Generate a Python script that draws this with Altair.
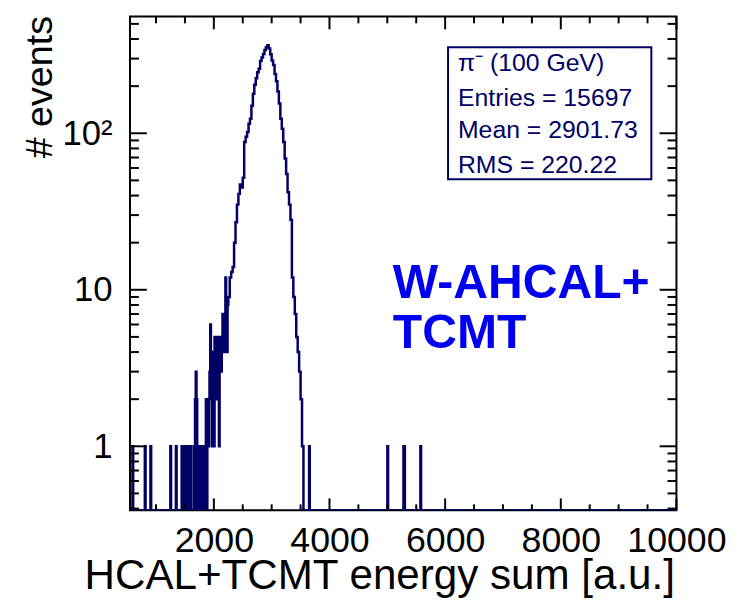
import altair as alt
import pandas as pd

# ---------------- data ----------------
x_min, x_max = 550, 10000
y_min, y_max = 0.39, 558

# low tail: fine bins of 12.5 starting at 1650
tail_lo = 1650
tail_width = 12.5
tail_counts = [
    1, 0, 2, 3, 2, 0, 1, 0, 1, 1, 0, 1, 0, 1, 0, 1,   # 1650-1837.5
    1, 2, 0, 2, 1, 2, 3, 6, 2, 1, 2, 4, 1, 5, 2, 5,   # 1850-2037.5
    3, 2, 5, 1, 4, 5, 3, 4, 7, 5, 4, 6, 12, 6, 4, 8,  # 2050-2237.5
]
# main peak: bins of 25 starting at 2250
peak_lo = 2250
peak_width = 25
peak_counts = [
    9, 12, 13, 14, 20, 27,                          # 2250-2375
    35, 41, 47, 45, 52, 88, 95, 102, 115, 124,      # 2400-2625
    150, 179, 204, 225, 245, 258, 290, 305, 321, 340,  # 2650-2875
    355, 365, 348, 320, 292, 273, 239, 215, 185, 155,  # 2900-3125
    124, 107, 88, 69, 55, 42, 35, 28, 12, 9,        # 3150-3375
    7, 5, 4, 3, 2, 1,                               # 3400-3525
]
# isolated single-entry spikes (bin centres)
spike_pos = [599, 813, 910, 1254, 1350, 1450, 1480, 1525, 1560, 1596,
             3653, 5007, 5285, 5297.5, 5578]
spike_counts = [1] * len(spike_pos)
spike_width = 12.5

x_major = [2000, 4000, 6000, 8000, 10000]
x_minor = [1000, 1500, 2500, 3000, 3500, 4500, 5000, 5500, 6500, 7000,
           7500, 8500, 9000, 9500]
y_major = [1, 10, 100]
y_minor = [0.4, 0.5, 0.6, 0.7, 0.8, 0.9, 2, 3, 4, 5, 6, 7, 8, 9,
           20, 30, 40, 50, 60, 70, 80, 90, 200, 300, 400, 500]

stats_lines = ["π⁻ (100 GeV)", "Entries = 15697", "Mean = 2901.73", "RMS = 220.22"]
label_lines = ["W-AHCAL+", "TCMT"]

# ---------------- build step outline table ----------------
bins = []
for i, c in enumerate(tail_counts):
    lo = tail_lo + i * tail_width
    bins.append((lo, lo + tail_width, c))
for i, c in enumerate(peak_counts):
    lo = peak_lo + i * peak_width
    bins.append((lo, lo + peak_width, c))
for p, c in zip(spike_pos, spike_counts):
    bins.append((p - spike_width / 2, p + spike_width / 2, c))
bins.sort()
pts = [(x_min, 0)]
prev_hi = x_min
for lo, hi, c in bins:
    if lo > prev_hi:
        pts.append((prev_hi, 0))
    pts.append((lo, c))
    prev_hi = hi
pts.append((prev_hi, 0))
pts.append((x_max, 0))
hist = pd.DataFrame(pts, columns=["x", "count"])
hist["y"] = hist["count"].clip(lower=0.01)

W, H = 551, 498
NAVY = "#000066"
FONT = "Liberation Sans"

xscale = alt.Scale(domain=[x_min, x_max], nice=False, zero=False)
yscale = alt.Scale(type="log", domain=[y_min, y_max], nice=False, clamp=True)

main = alt.Chart(hist).mark_line(
    interpolate="step-after", color=NAVY, strokeWidth=2.5, clip=True
).encode(
    x=alt.X("x:Q", scale=xscale, axis=alt.Axis(
        values=x_major, format="d", labelFont=FONT, labelFontSize=36,
        labelColor="black", labelPadding=42, labelBaseline="alphabetic",
        labelFlush=False, labelOverlap=False, ticks=False, tickSize=0,
        domain=False, grid=False,
        title="HCAL+TCMT energy sum [a.u.]", titleFont=FONT,
        titleFontSize=42.5, titleFontWeight="normal", titleColor="black",
        titleX=549, titleY=79, titleAlign="right", titleBaseline="alphabetic")),
    y=alt.Y("y:Q", scale=yscale, axis=alt.Axis(
        values=y_major,
        labelExpr="datum.value == 100 ? '10²' : datum.value == 10 ? '10' : '1'",
        labelFont=FONT, labelFontSize=35, labelColor="black",
        labelPadding=18, labelBaseline="middle", labelAlign="right",
        labelFlush=False, labelOverlap=False, ticks=False, tickSize=0,
        domain=False, grid=False,
        title="# events", titleFont=FONT,
        titleFontSize=38, titleFontWeight="normal", titleColor="black",
        titleAngle=270, titleX=-79, titleY=-1, titleAlign="right",
        titleBaseline="alphabetic")),
)

def xticks(vals, y0, y1):
    return alt.Chart(pd.DataFrame({"v": vals})).mark_rule(
        color="black", strokeWidth=2).encode(
        x=alt.X("v:Q", scale=xscale), y=alt.value(y0), y2=alt.value(y1))

def yticks(vals, x0, x1):
    return alt.Chart(pd.DataFrame({"v": vals})).mark_rule(
        color="black", strokeWidth=2).encode(
        y=alt.Y("v:Q", scale=yscale), x=alt.value(x0), x2=alt.value(x1))

ticks = [
    xticks(x_major, H, H - 12), xticks(x_minor, H, H - 6),
    xticks(x_major, 0, 13), xticks(x_minor, 0, 7),
    yticks(y_major, 0, 17), yticks(y_minor, 0, 9),
    yticks(y_major, W, W - 17), yticks(y_minor, W, W - 9),
]

box = alt.Chart(pd.DataFrame({"a": [0]})).mark_rect(
    fill="white", stroke=NAVY, strokeWidth=2).encode(
    x=alt.value(320.7), x2=alt.value(525.7), y=alt.value(31), y2=alt.value(164.3))

stats_y = [55.3, 90, 122.7, 157.7]
stats = [
    alt.Chart(pd.DataFrame({"t": [t]})).mark_text(
        font=FONT, fontSize=25, color=NAVY, align="left",
        baseline="alphabetic").encode(
        text="t:N", x=alt.value(330.7), y=alt.value(yy))
    for t, yy in zip(stats_lines, stats_y)
]

label_y = [284, 334]
labels = [
    alt.Chart(pd.DataFrame({"t": [t]})).mark_text(
        font=FONT, fontSize=48.5, fontWeight="bold", color="#0000ee",
        align="left", baseline="alphabetic").encode(
        text="t:N", x=alt.value(265), y=alt.value(yy))
    for t, yy in zip(label_lines, label_y)
]

chart = alt.layer(main, *ticks, box, *stats, *labels).properties(
    width=W, height=H,
    padding={"left": 123, "top": 6, "right": 54, "bottom": 92},
    autosize=alt.AutoSizeParams(type="none"),
    background="white",
).configure_view(stroke="black", strokeWidth=2)

chart.save("out.html", embed_options={"renderer": "svg", "actions": False})
